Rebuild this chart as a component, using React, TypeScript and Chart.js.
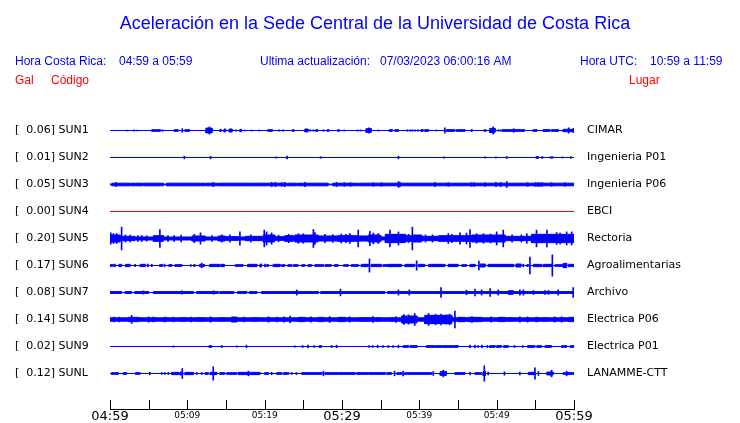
import React, { useEffect, useRef } from 'react';
import { Chart, registerables } from 'chart.js';

Chart.register(...registerables);

// ---------- text ----------
const TITLE = 'Aceleración en la Sede Central de la Universidad de Costa Rica';
const HEADER_LEFT = ['Hora Costa Rica:', '04:59 a 05:59'];
const HEADER_MID = ['Ultima actualización:', '07/03/2023 06:00:16 AM'];
const HEADER_RIGHT = ['Hora UTC:', '10:59 a 11:59'];
const COLUMN_HEADS = ['Gal', 'Código', 'Lugar'];

// ---------- stations ----------
const CODES = ['SUN1', 'SUN2', 'SUN3', 'SUN4', 'SUN5', 'SUN6', 'SUN7', 'SUN8', 'SUN9', 'SUNL'];
const PEAKS = [0.06, 0.01, 0.05, 0.0, 0.2, 0.17, 0.08, 0.14, 0.02, 0.12];
const PLACES = ['CIMAR', 'Ingenieria P01', 'Ingenieria P06', 'EBCI', 'Rectoria', 'Agroalimentarias', 'Archivo', 'Electrica P06', 'Electrica P01', 'LANAMME-CTT'];
// background noise half-amplitude (Gal)
const BASES = [0, 0, 0.022, 0, 0.025, 0, 0.015, 0.028, 0, 0];

// x axis (minutes after 04:59)
const TIME_LABELS = ['04:59', '05:09', '05:19', '05:29', '05:39', '05:49', '05:59'];
const TICK_MINUTES = [0, 5, 10, 15, 20, 25, 30, 35, 40, 45, 50, 55, 60];

// ---------- traces: bursts [startMin, endMin, halfAmpGal], spikes [min, halfAmpGal] ----------
const SUN1_BURSTS = [[5.4, 5.9, 0.014], [6.0, 6.5, 0.014], [8.3, 8.8, 0.014], [9.7, 10.3, 0.014], [12.4, 13.2, 0.04], [14.2, 14.4, 0.014], [14.75, 14.95, 0.025], [15.4, 15.8, 0.025], [16.8, 17.0, 0.02], [20.4, 21.0, 0.014], [23.6, 23.8, 0.014], [25.2, 25.6, 0.025], [26.6, 26.85, 0.014], [28.1, 28.3, 0.014], [29.45, 29.65, 0.014], [33.1, 33.8, 0.03], [36.1, 36.5, 0.014], [36.85, 37.3, 0.014], [40.2, 40.5, 0.014], [40.7, 41.2, 0.014], [43.5, 44.6, 0.014], [44.8, 45.9, 0.014], [46.7, 46.85, 0.014], [48.4, 48.6, 0.014], [49.1, 49.8, 0.035], [50.7, 53.6, 0.014], [54.7, 55.2, 0.014], [56.0, 56.9, 0.014], [57.1, 58.0, 0.014], [58.6, 59.9, 0.02]];
const SUN1_SPIKES = [[2.2, 0.006], [3.1, 0.012], [3.5, 0.006], [6.8, 0.012], [9.35, 0.03], [12.85, 0.06], [16.3, 0.012], [17.4, 0.008], [18.3, 0.008], [19.3, 0.008], [21.85, 0.012], [22.4, 0.012], [25.9, 0.012], [26.3, 0.012], [27.6, 0.012], [30.3, 0.01], [32.0, 0.01], [32.4, 0.01], [33.5, 0.045], [34.7, 0.01], [38.45, 0.012], [38.8, 0.012], [39.1, 0.012], [39.45, 0.012], [39.8, 0.012], [42.2, 0.01], [43.3, 0.045], [49.55, 0.06], [50.2, 0.012], [50.5, 0.012], [52.2, 0.03], [59.3, 0.045], [59.95, 0.035]];

const SUN2_BURSTS = [[27.15, 27.35, 0.01], [55.1, 55.4, 0.014], [56.9, 57.3, 0.01]];
const SUN2_SPIKES = [[9.6, 0.022], [13.0, 0.022], [21.5, 0.011], [22.9, 0.022], [37.3, 0.022], [43.2, 0.011], [48.5, 0.011], [49.9, 0.011], [51.3, 0.017], [55.9, 0.017], [58.5, 0.011], [59.6, 0.017]];

const SUN3_BURSTS = [[0, 0.25, 0], [2.6, 2.72, 0], [4.3, 4.42, 0], [6.9, 7.3, 0.006], [12.3, 12.42, 0], [13.8, 13.92, 0], [18.5, 18.62, 0], [22.85, 22.97, 0], [24.1, 24.22, 0], [28.2, 28.8, 0.006], [32.0, 32.12, 0]];
const SUN3_SPIKES = [[0.8, 0.035], [13.35, 0.035], [20.9, 0.035], [21.4, 0.035], [22.2, 0.03], [22.6, 0.035], [25.2, 0.035], [29.3, 0.035], [30.3, 0.03], [31.1, 0.03], [34.05, 0.03], [35.1, 0.03], [37.3, 0.05], [37.5, 0.035], [42.0, 0.035], [43.75, 0.03], [46.75, 0.03], [47.1, 0.03], [48.5, 0.03], [49.9, 0.035], [50.5, 0.035], [51.3, 0.05], [54.0, 0.03], [55.0, 0.03], [55.3, 0.03], [55.55, 0.03], [55.9, 0.03], [57.1, 0.03], [58.8, 0.03]];

const SUN4_BURSTS: number[][] = [];
const SUN4_SPIKES: number[][] = [];

const SUN5_BURSTS = [[0, 1.3, 0.058], [1.3, 3.2, 0.036], [5.6, 6.9, 0.047], [10.6, 12.3, 0.042], [14.0, 14.9, 0.042], [14.9, 16.6, 0.031], [17.5, 19.6, 0.036], [19.8, 21.3, 0.058], [21.3, 22.6, 0.031], [22.6, 23.7, 0.047], [23.9, 26.9, 0.058], [26.9, 29.5, 0.042], [29.5, 32.1, 0.047], [32.1, 33.4, 0.042], [33.4, 34.9, 0.058], [35.6, 38.2, 0.069], [38.2, 39.0, 0.047], [39.2, 40.3, 0.058], [40.3, 42.5, 0.036], [42.5, 46.8, 0.047], [46.8, 51.1, 0.058], [51.1, 54.5, 0.036], [54.5, 60, 0.069]];
const SUN5_SPIKES = [[0.1, 0.094], [0.45, 0.083], [0.85, 0.083], [1.5, 0.19], [2.0, 0.06], [2.6, 0.055], [3.6, 0.05], [4.1, 0.05], [4.75, 0.045], [6.45, 0.15], [7.5, 0.05], [8.3, 0.05], [9.2, 0.055], [10.9, 0.07], [11.7, 0.094], [13.2, 0.05], [14.45, 0.06], [15.5, 0.06], [16.8, 0.11], [18.2, 0.06], [19.95, 0.14], [20.25, 0.11], [20.9, 0.094], [21.8, 0.055], [23.1, 0.07], [24.35, 0.08], [25.0, 0.08], [26.3, 0.15], [26.5, 0.1], [27.8, 0.07], [28.8, 0.065], [29.9, 0.075], [30.5, 0.07], [31.0, 0.083], [32.1, 0.14], [33.6, 0.12], [34.05, 0.09], [34.7, 0.083], [35.0, 0.05], [36.2, 0.14], [37.3, 0.11], [38.6, 0.07], [39.1, 0.19], [40.8, 0.06], [41.7, 0.06], [43.75, 0.083], [44.2, 0.07], [45.25, 0.094], [46.1, 0.09], [46.55, 0.15], [47.4, 0.08], [48.3, 0.08], [49.2, 0.075], [50.0, 0.11], [50.85, 0.14], [52.0, 0.06], [53.2, 0.06], [53.9, 0.08], [55.15, 0.14], [56.5, 0.14], [57.75, 0.1], [58.2, 0.09], [59.05, 0.11], [59.7, 0.11]];

const SUN6_BURSTS = [[0, 0.45, 0.014], [1.15, 1.5, 0.019], [2.0, 2.6, 0.019], [3.9, 4.6, 0.019], [6.4, 6.8, 0.014], [7.6, 8.0, 0.014], [8.4, 9.3, 0.014], [10.8, 11.0, 0.014], [11.6, 12.2, 0.019], [12.9, 14.2, 0.019], [14.35, 14.8, 0.019], [16.2, 17.2, 0.014], [17.8, 19.0, 0.019], [19.4, 19.6, 0.025], [20.25, 20.5, 0.014], [21.1, 22.0, 0.019], [22.2, 22.6, 0.014], [23.0, 23.5, 0.014], [23.7, 24.3, 0.014], [24.8, 25.2, 0.014], [25.6, 26.1, 0.014], [26.5, 27.6, 0.014], [27.8, 28.6, 0.014], [29.0, 29.5, 0.014], [30.2, 30.8, 0.014], [31.2, 32.1, 0.014], [32.5, 33.4, 0.019], [33.8, 35.1, 0.019], [35.3, 35.8, 0.014], [35.9, 37.7, 0.019], [38.15, 39.4, 0.019], [39.9, 40.7, 0.019], [41.2, 43.3, 0.019], [43.75, 45.0, 0.019], [45.5, 46.1, 0.014], [46.55, 47.2, 0.019], [47.85, 48.5, 0.025], [48.9, 52.2, 0.019], [52.5, 53.15, 0.025], [53.9, 54.1, 0.014], [54.75, 55.8, 0.019], [56.0, 57.1, 0.019], [57.55, 58.5, 0.014], [58.6, 59.05, 0.036], [59.3, 60, 0.019]];
const SUN6_SPIKES = [[0.65, 0.022], [3.25, 0.02], [4.9, 0.022], [5.4, 0.02], [7.05, 0.022], [10.45, 0.017], [11.85, 0.039], [20.05, 0.022], [33.55, 0.11], [39.65, 0.078], [47.7, 0.072], [53.45, 0.022], [54.3, 0.14], [57.2, 0.178]];

const SUN7_BURSTS = [[1.5, 1.95, 0], [2.8, 3.2, 0], [5.0, 5.6, 0], [10.8, 11.2, 0], [14.0, 14.2, 0], [16.0, 16.5, 0], [17.7, 18.0, 0], [19.0, 19.6, 0], [26.95, 27.25, 0], [35.55, 35.9, 0], [51.5, 52.15, 0.03]];
const SUN7_SPIKES = [[4.3, 0.028], [9.3, 0.028], [13.4, 0.028], [24.15, 0.044], [29.8, 0.056], [37.3, 0.044], [38.7, 0.044], [42.8, 0.083], [46.1, 0.039], [47.2, 0.056], [48.05, 0.044], [49.15, 0.067], [50.2, 0.044], [53.0, 0.044], [53.45, 0.044], [54.75, 0.033], [56.25, 0.033], [56.7, 0.033], [57.95, 0.044], [59.9, 0.083]];

const SUN8_BURSTS = [[2.4, 3.7, 0.036], [3.9, 4.1, 0.031], [5.4, 5.8, 0.036], [6.9, 7.3, 0.036], [9.05, 9.9, 0.031], [11.2, 12.3, 0.031], [14.0, 14.9, 0.031], [15.7, 16.4, 0.042], [18.3, 19.2, 0.031], [24.35, 25.2, 0.036], [26.9, 27.6, 0.036], [29.5, 30.4, 0.036], [32.1, 33.8, 0.031], [34.3, 35.1, 0.031], [36.2, 36.85, 0.031], [37.7, 39.7, 0.058], [40.7, 44.2, 0.069], [45.0, 45.9, 0.036], [46.3, 48.1, 0.036], [50.2, 51.1, 0.036], [51.3, 52.2, 0.031], [55.0, 55.4, 0.036], [55.8, 56.7, 0.031], [59.3, 60, 0.036]];
const SUN8_SPIKES = [[0.5, 0.04], [1.2, 0.04], [2.8, 0.067], [5.0, 0.045], [8.2, 0.04], [10.5, 0.04], [13.0, 0.045], [17.3, 0.04], [20.5, 0.045], [21.6, 0.04], [22.5, 0.045], [23.3, 0.056], [26.0, 0.045], [28.4, 0.05], [31.0, 0.045], [34.0, 0.05], [37.0, 0.05], [38.0, 0.083], [38.6, 0.078], [39.4, 0.1], [41.2, 0.1], [42.1, 0.089], [42.8, 0.089], [43.5, 0.078], [43.9, 0.089], [44.6, 0.139], [46.8, 0.05], [49.3, 0.045], [53.0, 0.045], [54.0, 0.045], [57.5, 0.045], [58.4, 0.044]];

const SUN9_BURSTS = [[12.8, 13.15, 0.014], [27.05, 27.35, 0.014], [37.9, 38.6, 0.014], [38.8, 39.7, 0.014], [40.9, 42.0, 0.014], [42.1, 42.9, 0.014], [43.0, 44.3, 0.014], [44.4, 45.0, 0.014], [49.1, 49.8, 0.014], [50.0, 50.6, 0.014], [50.9, 51.5, 0.014], [54.0, 54.95, 0.014], [55.2, 55.8, 0.014], [56.25, 57.1, 0.014], [58.4, 59.05, 0.014], [59.5, 60, 0.014]];
const SUN9_SPIKES = [[8.2, 0.011], [14.45, 0.017], [16.4, 0.011], [17.65, 0.022], [23.9, 0.011], [24.9, 0.017], [25.6, 0.022], [26.4, 0.017], [28.65, 0.017], [29.3, 0.022], [33.5, 0.017], [33.95, 0.017], [34.6, 0.022], [35.3, 0.017], [36.0, 0.017], [36.6, 0.017], [37.3, 0.022], [46.55, 0.022], [47.2, 0.022], [47.6, 0.017], [48.1, 0.022], [48.8, 0.017], [52.3, 0.017], [53.4, 0.017]];

const SUNL_BURSTS = [[0.2, 1.1, 0.014], [1.7, 2.15, 0.014], [3.3, 3.9, 0.014], [7.95, 8.85, 0.019], [9.05, 9.25, 0.025], [9.7, 10.8, 0.019], [12.3, 12.7, 0.014], [12.95, 13.8, 0.019], [14.2, 14.85, 0.014], [15.1, 16.4, 0.014], [16.6, 19.4, 0.019], [20.0, 20.5, 0.014], [21.55, 22.2, 0.014], [22.4, 23.1, 0.014], [24.8, 27.4, 0.014], [27.8, 29.5, 0.014], [29.6, 31.7, 0.014], [31.9, 33.4, 0.014], [33.5, 35.6, 0.014], [35.8, 36.4, 0.014], [37.1, 37.7, 0.014], [38.1, 41.6, 0.014], [42.7, 43.5, 0.031], [44.6, 45.9, 0.014], [47.2, 48.05, 0.014], [48.25, 48.55, 0.036], [54.1, 55.0, 0.019], [56.5, 57.3, 0.025], [58.6, 60, 0.014]];
const SUNL_SPIKES = [[5.15, 0.022], [6.7, 0.017], [7.1, 0.017], [7.55, 0.017], [9.35, 0.083], [11.2, 0.017], [11.85, 0.017], [13.35, 0.111], [17.9, 0.039], [20.9, 0.022], [23.5, 0.017], [24.1, 0.017], [27.6, 0.039], [36.8, 0.039], [37.9, 0.039], [41.8, 0.033], [43.1, 0.056], [46.55, 0.022], [48.4, 0.128], [48.9, 0.022], [51.0, 0.028], [53.0, 0.022], [54.95, 0.094], [55.4, 0.033], [57.1, 0.056], [59.05, 0.039]];

const BURSTS = [SUN1_BURSTS, SUN2_BURSTS, SUN3_BURSTS, SUN4_BURSTS, SUN5_BURSTS, SUN6_BURSTS, SUN7_BURSTS, SUN8_BURSTS, SUN9_BURSTS, SUNL_BURSTS];
const SPIKES = [SUN1_SPIKES, SUN2_SPIKES, SUN3_SPIKES, SUN4_SPIKES, SUN5_SPIKES, SUN6_SPIKES, SUN7_SPIKES, SUN8_SPIKES, SUN9_SPIKES, SUNL_SPIKES];

// ---------- layout / style constants ----------
const BLUE = '#0000ff';
const RED = '#ff0000';
const TRACE_COLORS = [BLUE, BLUE, BLUE, RED, BLUE, BLUE, BLUE, BLUE, BLUE, BLUE];
const Y_MAX = 5; // Gal span of plot area (60 px per Gal)
const ROW_TOP = 4.6417; // centre of first row (Gal units on y scale)
const ROW_STEP = 0.45; // spacing between rows (Gal units)
const T_END = 60;

const rowCenter = (k: number) => ROW_TOP - ROW_STEP * k;

function envelope(k: number, sign: number) {
  const c = rowCenter(k);
  const h0 = BASES[k];
  const pts: { x: number; y: number }[] = [{ x: 0, y: c + sign * h0 }];
  for (const [s, e, a] of BURSTS[k]) {
    pts.push({ x: s, y: c + sign * h0 }, { x: s, y: c + sign * a }, { x: e, y: c + sign * a }, { x: e, y: c + sign * h0 });
  }
  pts.push({ x: T_END, y: c + sign * h0 });
  return pts;
}

function buildDatasets() {
  const ds: any[] = [];
  CODES.forEach((_, k) => {
    const color = TRACE_COLORS[k];
    ds.push({
      type: 'line', data: envelope(k, 1), borderColor: color, backgroundColor: color,
      borderWidth: 1, pointRadius: 0, fill: false, tension: 0, xAxisID: 'x', yAxisID: 'y',
    });
    ds.push({
      type: 'line', data: envelope(k, -1), borderColor: color, backgroundColor: color,
      borderWidth: 1, pointRadius: 0, fill: '-1', tension: 0, xAxisID: 'x', yAxisID: 'y',
    });
    if (SPIKES[k].length) {
      const c = rowCenter(k);
      ds.push({
        type: 'bar',
        data: SPIKES[k].map(([t, a]) => ({ x: t, y: [c - a, c + a] })),
        backgroundColor: color, borderWidth: 0, barThickness: 1, grouped: false,
        xAxisID: 'x', yAxisID: 'y',
      });
    }
  });
  return ds;
}

const rowTicks = () => CODES.map((_, k) => ({ value: rowCenter(k) })).reverse();
const leftLabel = (k: number) => `[${PEAKS[k].toFixed(2).padStart(6, ' ')}] ${CODES[k]}`;

const noPad = (s: any) => { s.paddingTop = 0; s.paddingBottom = 0; s.paddingLeft = 0; s.paddingRight = 0; };

const axisPlugin = {
  id: 'seisAxis',
  afterDatasetsDraw(chart: any) {
    const ctx = chart.ctx;
    const xs = chart.scales.x;
    const bottom = Math.round(chart.chartArea.bottom);
    ctx.save();
    ctx.strokeStyle = '#000';
    ctx.lineWidth = 1;
    ctx.beginPath();
    const x0 = Math.round(xs.getPixelForValue(0));
    const x1 = Math.round(xs.getPixelForValue(T_END));
    ctx.moveTo(x0, bottom + 0.5);
    ctx.lineTo(x1 + 1, bottom + 0.5);
    for (const t of TICK_MINUTES) {
      const px = Math.round(xs.getPixelForValue(t)) + 0.5;
      ctx.moveTo(px, bottom - 9);
      ctx.lineTo(px, bottom + 1);
    }
    ctx.stroke();
    ctx.restore();
  },
};

const headerPlugin = {
  id: 'header',
  afterDraw(chart: any) {
    const ctx = chart.ctx;
    ctx.save();
    ctx.textBaseline = 'alphabetic';
    ctx.fillStyle = BLUE;
    ctx.font = '18px "Liberation Sans", Arial, sans-serif';
    ctx.textAlign = 'center';
    ctx.fillText(TITLE, 375, 29);
    ctx.textAlign = 'left';
    ctx.font = '12px "Liberation Sans", Arial, sans-serif';
    ctx.fillText(HEADER_LEFT[0], 15, 65);
    ctx.fillText(HEADER_LEFT[1], 119, 65);
    ctx.fillText(HEADER_MID[0], 260, 65);
    ctx.fillText(HEADER_MID[1], 380, 65);
    ctx.fillText(HEADER_RIGHT[0], 580, 65);
    ctx.fillText(HEADER_RIGHT[1], 650, 65);
    ctx.fillStyle = RED;
    ctx.fillText(COLUMN_HEADS[0], 15, 84);
    ctx.fillText(COLUMN_HEADS[1], 51, 84);
    ctx.fillText(COLUMN_HEADS[2], 629, 84);
    ctx.restore();
  },
};

export default function App() {
  const ref = useRef<HTMLCanvasElement | null>(null);
  useEffect(() => {
    document.body.style.margin = '0';
    if (!ref.current) return;
    const chart = new Chart(ref.current, {
      type: 'line',
      data: { datasets: buildDatasets() },
      options: {
        animation: false,
        responsive: true,
        maintainAspectRatio: false,
        devicePixelRatio: 1,
        events: [],
        layout: { padding: { left: 15, right: 0, top: 109, bottom: 0 } },
        plugins: { legend: { display: false }, tooltip: { enabled: false }, title: { display: false } },
        scales: {
          x: {
            type: 'linear', min: 0, max: T_END, offset: false,
            grid: { display: false, drawTicks: false }, border: { display: false },
            afterFit: (s: any) => { s.height = 14; noPad(s); },
            ticks: {
              stepSize: 10, autoSkip: false, maxRotation: 0, minRotation: 0, padding: 1, color: '#000',
              callback: (_v: any, i: number) => TIME_LABELS[i],
              font: (ctx: any) => (ctx.index % 3 === 0
                ? { family: '"DejaVu Sans"', size: 13, lineHeight: 0.95 }
                : { family: '"DejaVu Sans"', size: 9, lineHeight: 1.2 }),
            },
          },
          y: {
            type: 'linear', position: 'left', min: 0, max: Y_MAX,
            grid: { display: false, drawTicks: false }, border: { display: false },
            afterBuildTicks: (s: any) => { s.ticks = rowTicks(); },
            afterFit: (s: any) => { s.width = 95; noPad(s); },
            ticks: {
              crossAlign: 'far', padding: 0, autoSkip: false, color: '#000',
              font: { family: '"DejaVu Sans"', size: 11 },
              callback: (_v: any, i: number) => leftLabel(CODES.length - 1 - i),
            },
          },
          y2: {
            type: 'linear', position: 'right', min: 0, max: Y_MAX,
            grid: { display: false, drawTicks: false }, border: { display: false },
            afterBuildTicks: (s: any) => { s.ticks = rowTicks(); },
            afterFit: (s: any) => { s.width = 166; noPad(s); },
            ticks: {
              padding: 13, autoSkip: false, color: '#000',
              font: { family: '"DejaVu Sans"', size: 11 },
              callback: (_v: any, i: number) => PLACES[CODES.length - 1 - i],
            },
          },
        },
      } as any,
      plugins: [axisPlugin, headerPlugin],
    });
    return () => chart.destroy();
  }, []);
  return (
    <div style={{ position: 'relative', width: 740, height: 423 }}>
      <canvas ref={ref} />
    </div>
  );
}
